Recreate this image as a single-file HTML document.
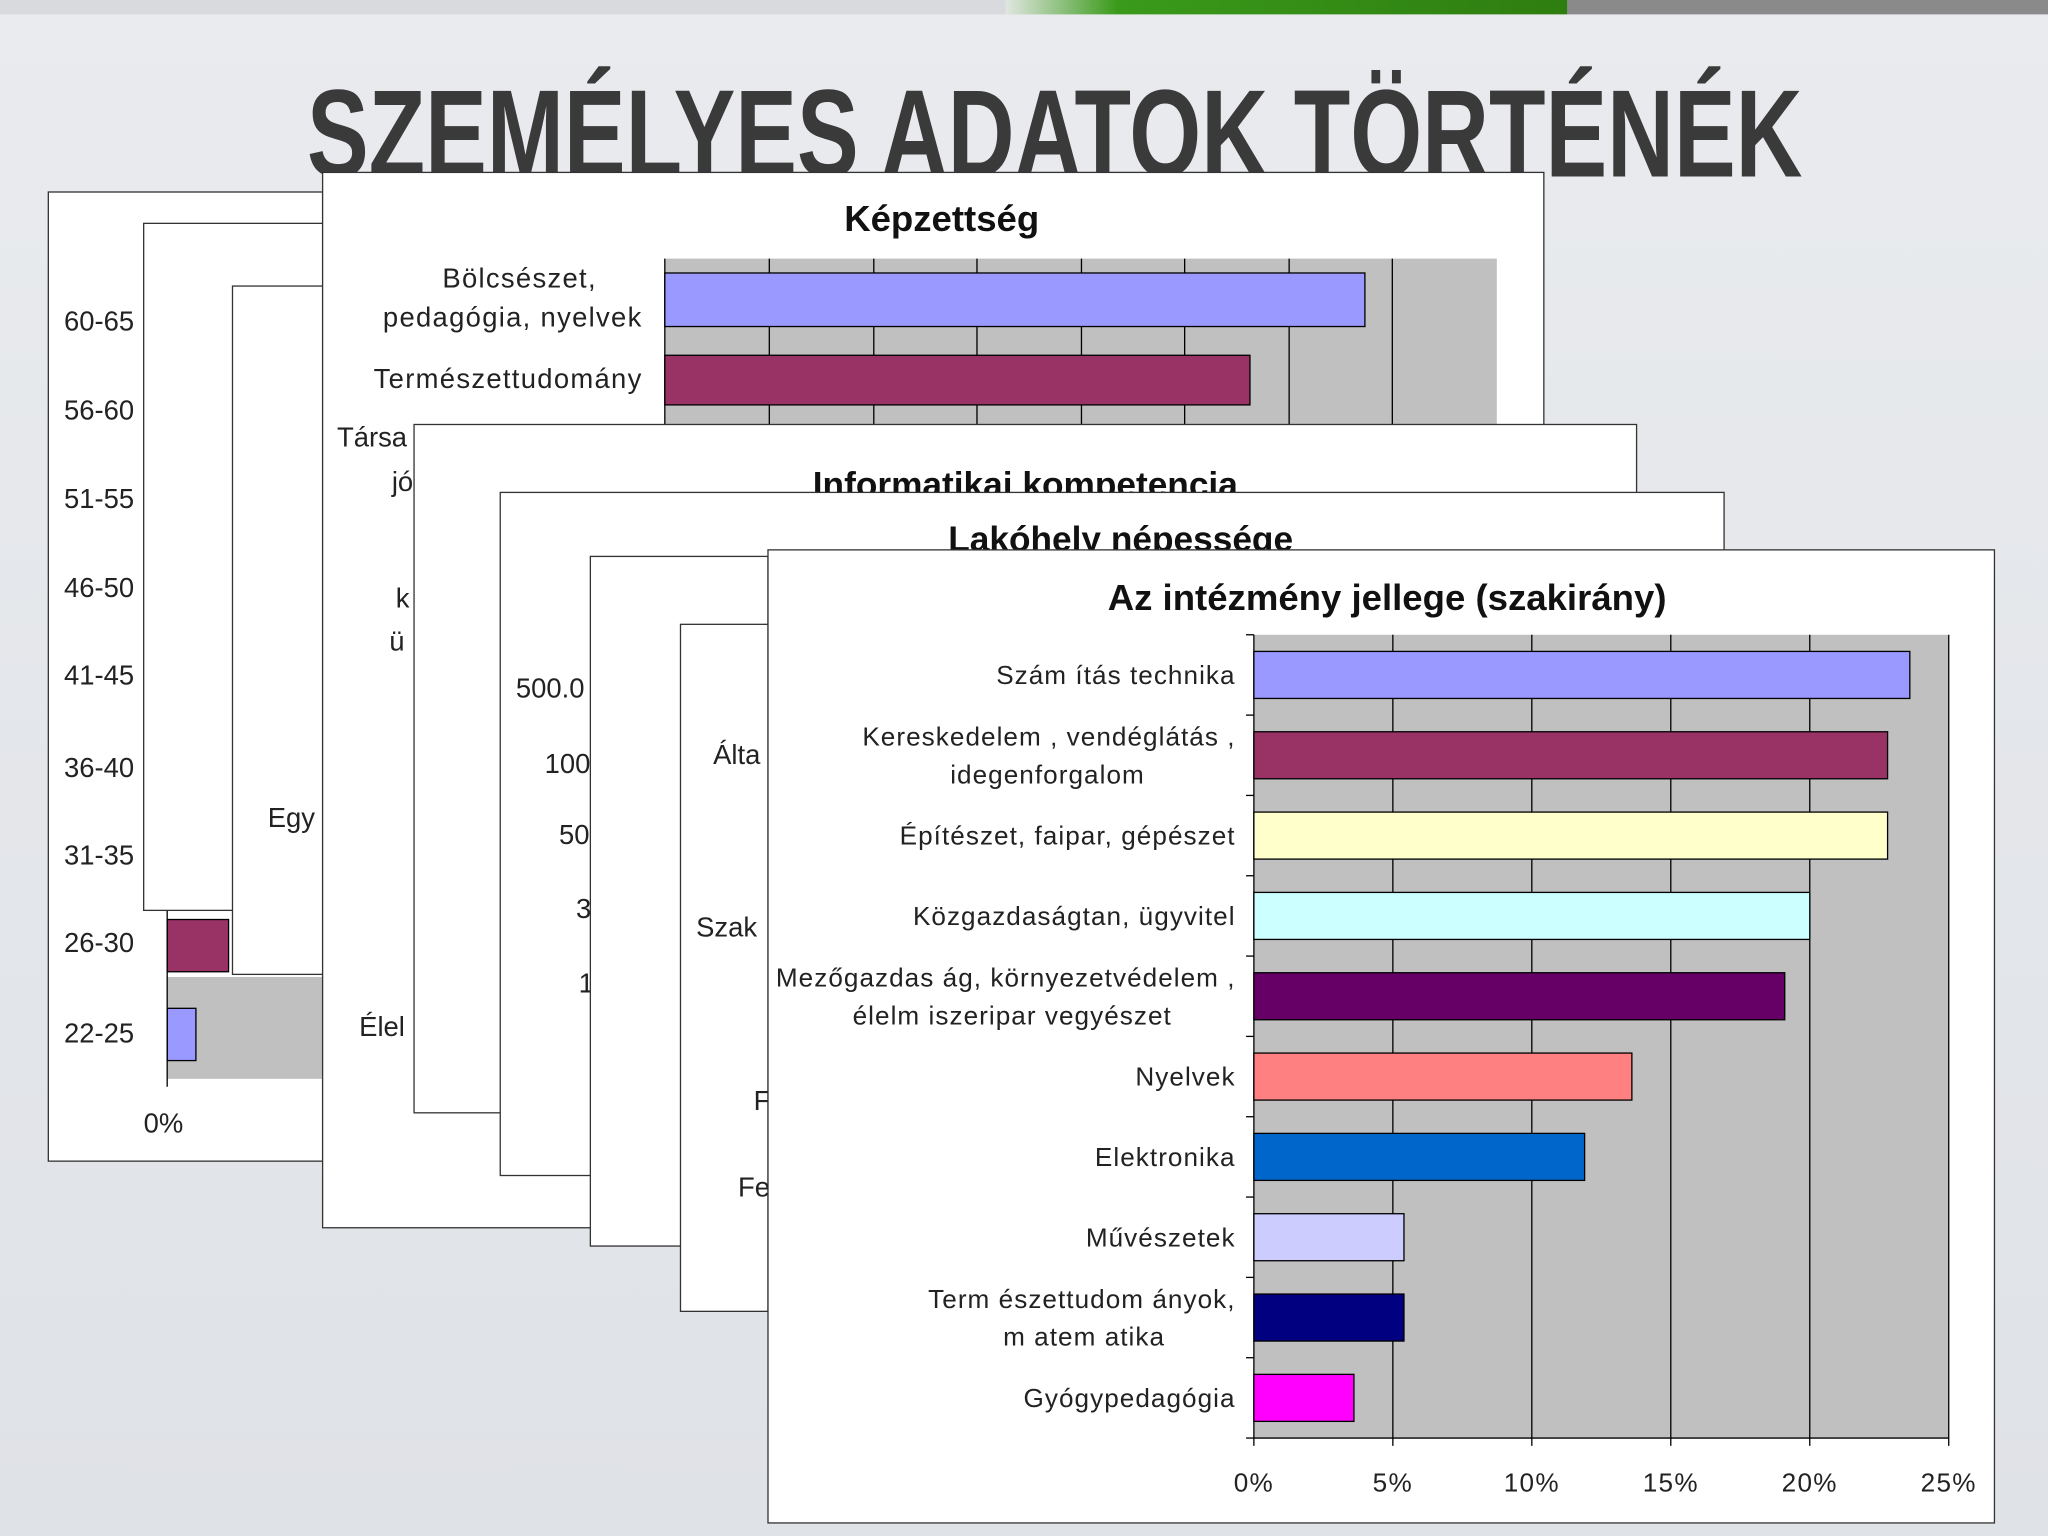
<!DOCTYPE html>
<html><head><meta charset="utf-8">
<style>
html,body{margin:0;padding:0;width:2048px;height:1536px;overflow:hidden;background:#e4e6ea;}
svg{display:block;font-family:"Liberation Sans",sans-serif;}
</style></head>
<body>
<svg width="2048" height="1536" viewBox="0 0 1568 1176">
<defs>
<linearGradient id="bg" x1="0" y1="0" x2="0" y2="1"><stop offset="0" stop-color="#e9ebee"/><stop offset="1" stop-color="#dfe2e7"/></linearGradient>
<linearGradient id="gr" x1="0" y1="0" x2="1" y2="0"><stop offset="0" stop-color="#e0e6e0"/><stop offset="0.2" stop-color="#3a9a1a"/><stop offset="1" stop-color="#2e7d10"/></linearGradient>
</defs>
<rect width="1568" height="1176" fill="url(#bg)"/>
<rect x="0" y="0" width="1568" height="11" fill="#d8dadd"/>
<rect x="770" y="0" width="430" height="11" fill="url(#gr)"/>
<rect x="1200" y="0" width="368" height="11" fill="#8a8a8a"/>
<text x="235" y="135" textLength="1145" lengthAdjust="spacingAndGlyphs" font-size="95" font-weight="bold" fill="#3a3a3a">SZEMÉLYES ADATOK TÖRTÉNÉK</text>

<g>
<rect x="37" y="147" width="210" height="742" fill="#fff" stroke="#333"/>
<rect x="128" y="748" width="119" height="78" fill="#c0c0c0"/>
<rect x="128" y="704" width="47" height="40" fill="#993366" stroke="#000"/>
<rect x="128" y="772" width="22" height="40" fill="#9999ff" stroke="#000"/>
<line x1="128" y1="680" x2="128" y2="832" stroke="#000"/>
<g font-size="21" fill="#222">
<text x="49" y="253">60-65</text><text x="49" y="321">56-60</text><text x="49" y="389">51-55</text>
<text x="49" y="457">46-50</text><text x="49" y="524">41-45</text><text x="49" y="595">36-40</text>
<text x="49" y="662">31-35</text><text x="49" y="729">26-30</text><text x="49" y="798">22-25</text>
<text x="110" y="867">0%</text></g>
</g>
<rect x="110" y="171" width="137" height="526" fill="#fff" stroke="#333"/>
<g><rect x="178" y="219" width="69" height="527" fill="#fff" stroke="#333"/>
<text x="205" y="633" font-size="21" fill="#222">Egy</text></g>

<g>
<rect x="247" y="132" width="935" height="808" fill="#fff" stroke="#333"/>
<text x="721" y="177" font-size="28" font-weight="bold" text-anchor="middle" fill="#111">Képzettség</text>
<rect x="509" y="198" width="637" height="127" fill="#c0c0c0"/>
<g stroke="#000"><line x1="589" y1="198" x2="589" y2="325"/><line x1="669" y1="198" x2="669" y2="325"/><line x1="748" y1="198" x2="748" y2="325"/><line x1="828" y1="198" x2="828" y2="325"/><line x1="907" y1="198" x2="907" y2="325"/><line x1="987" y1="198" x2="987" y2="325"/><line x1="1066" y1="198" x2="1066" y2="325"/><line x1="509" y1="198" x2="509" y2="325"/></g>
<rect x="509" y="209" width="536" height="41" fill="#9999ff" stroke="#000"/>
<rect x="509" y="272" width="448" height="38" fill="#993366" stroke="#000"/>
<g font-size="21" fill="#222" text-anchor="end" letter-spacing="1">
<text x="457" y="220">Bölcsészet,</text><text x="492" y="250">pedagógia, nyelvek</text>
<text x="492" y="297">Természettudomány</text></g>
<g font-size="21" fill="#222"><text x="258" y="342">Társa</text><text x="300" y="376">jó</text><text x="303" y="465">k</text><text x="298" y="498">ü</text><text x="275" y="793">Élel</text></g>
</g>

<g>
<rect x="317" y="325" width="936" height="527" fill="#fff" stroke="#333"/>
<text x="785" y="380" font-size="27" font-weight="bold" text-anchor="middle" fill="#111">Informatikai kompetencia</text>
</g>
<g>
<rect x="383" y="377" width="937" height="523" fill="#fff" stroke="#333"/>
<text x="858" y="422" font-size="27" font-weight="bold" text-anchor="middle" fill="#111">Lakóhely népessége</text>
<g font-size="21" fill="#222"><text x="395" y="534">500.0</text><text x="417" y="592">100</text><text x="428" y="646">50</text><text x="441" y="703">3</text><text x="443" y="760">1</text></g>
</g>
<rect x="452" y="426" width="136" height="528" fill="#fff" stroke="#333"/>
<g><rect x="521" y="478" width="67" height="526" fill="#fff" stroke="#333"/>
<g font-size="21" fill="#222"><text x="546" y="585">Álta</text><text x="533" y="717">Szak</text><text x="577" y="850">F</text><text x="565" y="916">Fe</text></g></g>

<g>
<rect x="588" y="421" width="939" height="745" fill="#fff" stroke="#333"/>
<text x="1062" y="467" font-size="28" font-weight="bold" text-anchor="middle" fill="#111">Az intézmény jellege (szakirány)</text>
<rect x="960" y="486" width="532" height="615" fill="#c0c0c0"/>
<g id="grid"></g><g id="bars"></g><g id="labels"></g><g id="ticks"></g>
</g>
</svg>
<script>
const categories=[["Szám ítás technika"],["Kereskedelem , vendéglátás ,","idegenforgalom"],["Építészet, faipar, gépészet"],["Közgazdaságtan, ügyvitel"],["Mezőgazdas ág, környezetvédelem ,","élelm iszeripar vegyészet"],["Nyelvek"],["Elektronika"],["Művészetek"],["Term észettudom ányok,","m atem atika"],["Gyógypedagógia"]];
const values=[23.6,22.8,22.8,20.0,19.1,13.6,11.9,5.4,5.4,3.6];
const colors=["#9999ff","#993366","#ffffcc","#ccffff","#660066","#ff8080","#0066cc","#ccccff","#000080","#ff00ff"];
const tickValues=[0,5,10,15,20,25];
const tickLabels=["0%","5%","10%","15%","20%","25%"];
const NS="http://www.w3.org/2000/svg";
const X0=960,X1=1492,Y0=486,Y1=1101,XMAX=25;
const x=v=>X0+(v/XMAX)*(X1-X0);
const band=(Y1-Y0)/categories.length;
const y=i=>Y0+band*(i+0.5);
function mk(t,a,p){const e=document.createElementNS(NS,t);for(const k in a)e.setAttribute(k,a[k]);p.appendChild(e);return e;}
const g=document.getElementById('grid'),b=document.getElementById('bars'),l=document.getElementById('labels'),tk=document.getElementById('ticks');
tickValues.forEach((v,i)=>{
 const ln=mk('line',{x1:x(v),x2:x(v),y1:Y0,y2:Y1+6,stroke:'#000'},g);
 
 
 const t=mk('text',{x:x(v),y:1142,'font-size':20,'text-anchor':'middle',fill:'#222','letter-spacing':1},tk);
 t.textContent=tickLabels[i];
 
 
});
mk('line',{x1:X0,x2:X1,y1:Y1,y2:Y1,stroke:'#000'},g);
for(let i=0;i<=categories.length;i++){mk('line',{x1:X0-6,x2:X0,y1:Y0+band*i,y2:Y0+band*i,stroke:'#000'},g);}
const line2Center={1:802,4:775,8:830};
values.forEach((v,i)=>{
 const r=mk('rect',{x:X0,y:y(i)-18,width:x(v)-X0,height:36,fill:colors[i],stroke:'#000'},b);
 
 
 const lines=categories[i];
 lines.forEach((s,j)=>{
  const second=lines.length>1&&j==1;
  const t=mk('text',{x:second?line2Center[i]:946,y:y(i)+7+(j-(lines.length-1)/2)*29,'font-size':20,'text-anchor':second?'middle':'end',fill:'#222','letter-spacing':0.8},l);
  t.textContent=s;
  
  
 });
});
</script>
</body></html>
